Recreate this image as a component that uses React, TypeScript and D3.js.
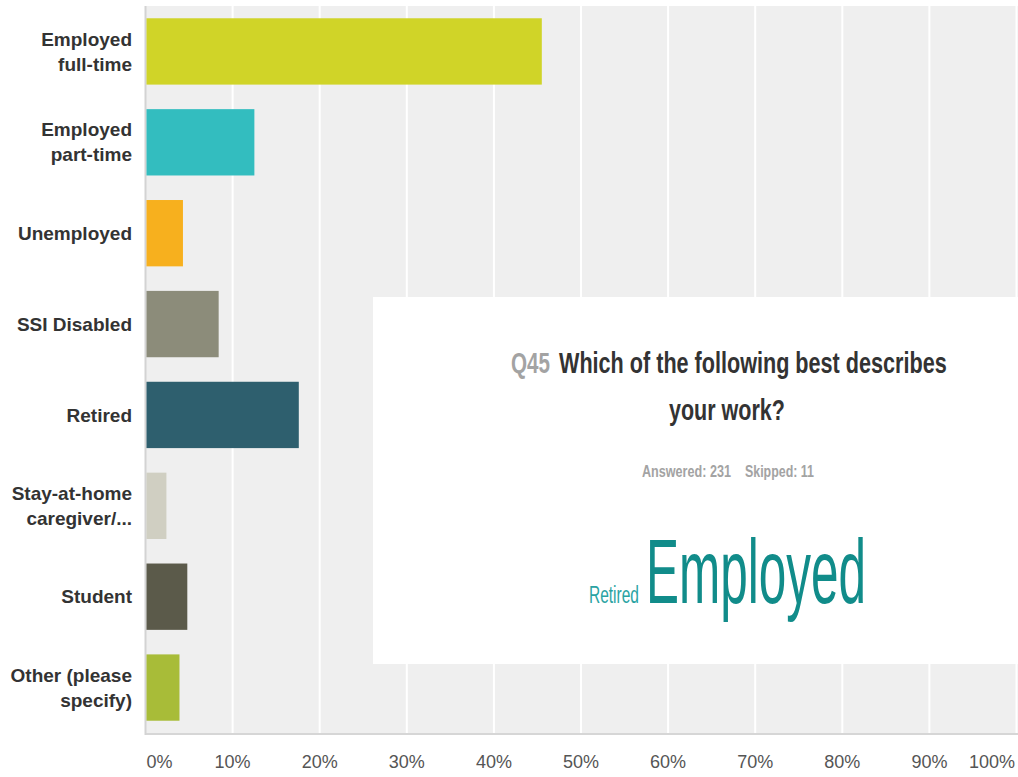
import React, { useLayoutEffect, useRef, useState } from "react";
import * as d3 from "d3";

const categories = [
  ["Employed", "full-time"],
  ["Employed", "part-time"],
  ["Unemployed"],
  ["SSI Disabled"],
  ["Retired"],
  ["Stay-at-home", "caregiver/..."],
  ["Student"],
  ["Other (please", "specify)"],
];
const values = [45.5, 12.5, 4.3, 8.4, 17.6, 2.4, 4.8, 3.9];
const colors = ["#d0d428", "#33bdbf", "#f7b01e", "#8c8c7a", "#2e5f6e", "#d0cfc2", "#5b5a4a", "#a8bc38"];
const ticks = [0, 10, 20, 30, 40, 50, 60, 70, 80, 90, 100];
const cloudWords = ["Retired", "Employed"];

const W = 1018;
const H = 777;
const plot = { left: 145.5, right: 1016.5, top: 6, bottom: 733 };

const sans = "'Liberation Sans', Arial, Helvetica, sans-serif";

function FitText(props: {
  x: number;
  y: number;
  width: number;
  size: number;
  bold?: boolean;
  fill: string;
  children: string;
}) {
  const ref = useRef<SVGTextElement>(null);
  const [s, setS] = useState(1);
  useLayoutEffect(() => {
    if (ref.current) {
      const w = ref.current.getComputedTextLength();
      if (w > 0) setS(props.width / w);
    }
  }, [props.width, props.children]);
  return (
    <text
      ref={ref}
      x={0}
      y={0}
      transform={`translate(${props.x},${props.y}) scale(${s},1)`}
      fontFamily={sans}
      fontWeight={props.bold ? "bold" : "normal"}
      fontSize={props.size}
      fill={props.fill}
    >
      {props.children}
    </text>
  );
}

export default function App() {
  const x = d3.scaleLinear().domain([0, 100]).range([plot.left, plot.right]);
  const y = d3
    .scaleBand<number>()
    .domain(d3.range(categories.length))
    .range([plot.top, plot.bottom])
    .paddingInner(0.27)
    .paddingOuter(0.135);
  return (
    <svg width={W} height={H} style={{ position: "fixed", left: 0, top: 0 }}>
      <rect x={0} y={0} width={W} height={H} fill="#ffffff" />
      <rect x={plot.left} y={plot.top} width={W - plot.left} height={plot.bottom - plot.top} fill="#efefef" />
      <line x1={plot.left} x2={W} y1={plot.bottom + 1} y2={plot.bottom + 1} stroke="#d6d6d6" strokeWidth={2} />
      {ticks.slice(1).map((t) => (
        <line key={t} x1={x(t)} x2={x(t)} y1={plot.top} y2={plot.bottom} stroke="#ffffff" strokeWidth={2} />
      ))}
      <line x1={plot.left} x2={plot.left} y1={plot.top} y2={plot.bottom + 2} stroke="#d3d3d3" strokeWidth={2} />
      {values.map((v, i) => (
        <rect key={i} x={x(0) + 1} y={y(i)} width={x(v) - x(0) - 1} height={y.bandwidth()} fill={colors[i]} />
      ))}
      {categories.map((lines, i) => {
        const cy = (y(i) as number) + y.bandwidth() / 2;
        const lh = 25;
        const y0 = cy - ((lines.length - 1) * lh) / 2;
        return (
          <text key={i} textAnchor="end" fontFamily={sans} fontWeight="bold" fontSize={19} fill="#333333">
            {lines.map((l, j) => (
              <tspan key={j} x={132} y={y0 + j * lh} dy="0.35em">
                {l}
              </tspan>
            ))}
          </text>
        );
      })}
      {ticks.map((t, i) => (
        <text
          key={t}
          x={i === 0 ? x(t) + 1 : i === ticks.length - 1 ? W - 3 : x(t)}
          y={762}
          dy="0.35em"
          textAnchor={i === 0 ? "start" : i === ticks.length - 1 ? "end" : "middle"}
          fontFamily={sans}
          fontSize={18}
          fill="#555555"
        >
          {t}%
        </text>
      ))}
      <rect x={373} y={297} width={W - 373} height={367} fill="#ffffff" />
      <FitText x={511} y={373} width={39} size={30} bold fill="#a3a3a3">Q45</FitText>
      <FitText x={559} y={373} width={388} size={30} bold fill="#333333">Which of the following best describes</FitText>
      <FitText x={669} y={420} width={116} size={30} bold fill="#333333">your work?</FitText>
      <FitText x={642} y={477} width={89} size={17} bold fill="#a3a3a3">Answered: 231</FitText>
      <FitText x={745} y={477} width={69} size={17} bold fill="#a3a3a3">Skipped: 11</FitText>
      <FitText x={589} y={603} width={50} size={24} fill="#2aa3a3">{cloudWords[0]}</FitText>
      <FitText x={646} y={603} width={220} size={91} fill="#118c8a">{cloudWords[1]}</FitText>
    </svg>
  );
}
